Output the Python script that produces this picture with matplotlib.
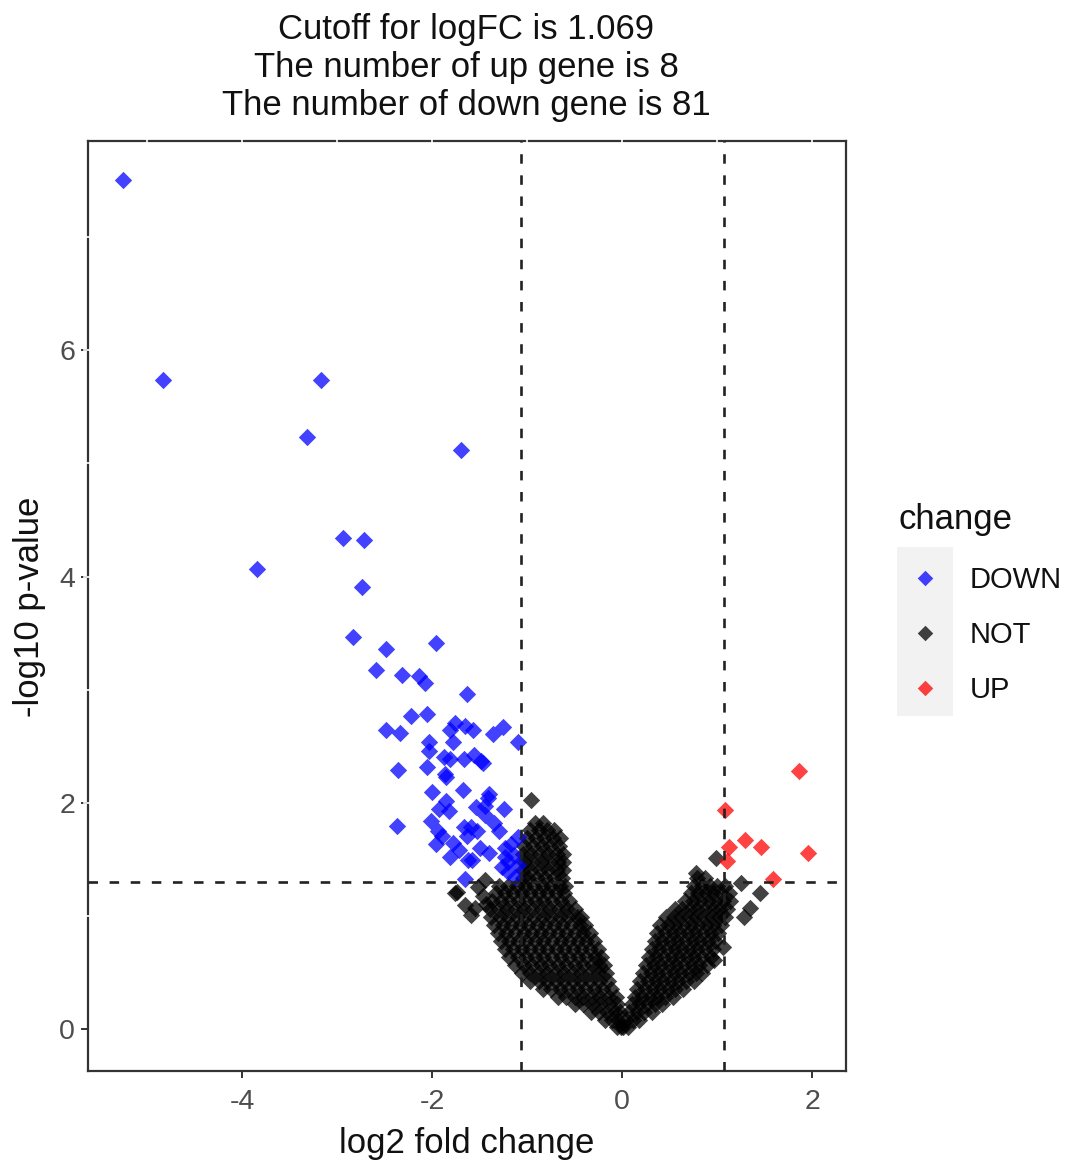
import matplotlib
matplotlib.use("Agg")
import matplotlib.pyplot as plt
from matplotlib.patches import Rectangle
import numpy as np

plt.rcParams['font.family'] = ['Liberation Sans', 'DejaVu Sans']

# ---------------- data ----------------
title_lines = ["Cutoff for logFC is 1.069",
               "The number of up gene is 8",
               "The number of down gene is 81"]
logfc_cutoff = 1.069
p_cutoff_y = 1.301  # -log10(0.05)

categories = ["DOWN", "NOT", "UP"]
colors = {"DOWN": "#0000FF", "NOT": "#000000", "UP": "#FF0000"}

x_ticks = [-4, -2, 0, 2]
y_ticks = [0, 2, 4, 6]

down_x = [-5.26, -4.84, -3.17, -3.32, -1.70, -2.94, -2.72, -3.85, -2.74, -2.84,
          -2.49, -1.96, -2.59, -2.32, -2.14, -2.08, -1.64, -2.22, -2.06, -2.49,
          -2.34, -1.76, -1.81, -1.66, -1.57, -1.36, -1.26, -1.10, -2.03, -1.78,
          -2.04, -1.88, -1.81, -1.67, -1.49, -1.47, -2.36, -2.06, -1.87, -1.86,
          -1.68, -1.40, -1.41, -1.86, -1.93, -1.82, -1.54, -1.45, -1.45, -1.25,
          -2.37, -2.01, -1.94, -1.90, -1.96, -1.67, -1.59, -1.64, -1.53, -1.35,
          -1.78, -1.81, -1.62, -1.58, -1.40, -1.24, -1.17, -1.10, -1.24, -1.27,
          -1.20, -1.10, -1.66, -1.14, -1.13, -1.50, -1.72, -1.30, -2.00, -1.20,
          -1.56]
down_y = [7.50, 5.74, 5.74, 5.23, 5.12, 4.34, 4.32, 4.07, 3.91, 3.47,
          3.36, 3.41, 3.17, 3.13, 3.12, 3.06, 2.96, 2.77, 2.79, 2.64,
          2.62, 2.71, 2.64, 2.68, 2.64, 2.61, 2.67, 2.54, 2.54, 2.54,
          2.46, 2.41, 2.39, 2.39, 2.37, 2.35, 2.29, 2.32, 2.26, 2.23,
          2.11, 2.08, 2.04, 2.02, 1.95, 1.93, 1.96, 1.97, 1.89, 1.95,
          1.80, 1.84, 1.75, 1.71, 1.64, 1.79, 1.79, 1.71, 1.75, 1.82,
          1.65, 1.52, 1.50, 1.50, 1.56, 1.60, 1.64, 1.70, 1.52, 1.43,
          1.39, 1.45, 1.33, 1.54, 1.35, 1.60, 1.58, 1.75, 2.10, 1.48,
          2.42]

up_x = [1.86, 1.08, 1.29, 1.12, 1.46, 1.96, 1.10, 1.59]
up_y = [2.28, 1.94, 1.67, 1.61, 1.61, 1.56, 1.49, 1.33]

# NOT genes: rows of the dense V-shaped cloud (row height, x positions)
not_row_y = [0.02, 0.08, 0.15, 0.22, 0.29, 0.36, 0.43, 0.50, 0.57, 0.64,
             0.71, 0.78, 0.85, 0.92, 0.99, 1.06, 1.13, 1.20, 1.27, 1.34,
             1.41, 1.48, 1.55, 1.62, 1.69, 1.76, 1.82]
not_row_left_x = [
    [-0.06, -0.01],
    [-0.18, -0.11, -0.04],
    [-0.33, -0.25, -0.16, -0.08, -0.02],
    [-0.50, -0.41, -0.32, -0.23, -0.14, -0.06],
    [-0.68, -0.59, -0.50, -0.41, -0.32, -0.23, -0.14, -0.07],
    [-0.84, -0.75, -0.66, -0.57, -0.48, -0.39, -0.30, -0.21, -0.12],
    [-0.97, -0.88, -0.79, -0.70, -0.61, -0.52, -0.43, -0.34, -0.25, -0.15],
    [-1.06, -0.97, -0.88, -0.79, -0.70, -0.61, -0.52, -0.43, -0.34, -0.25, -0.17],
    [-1.13, -1.04, -0.95, -0.86, -0.77, -0.68, -0.59, -0.50, -0.41, -0.32, -0.24, -0.19],
    [-1.19, -1.10, -1.01, -0.92, -0.83, -0.74, -0.65, -0.56, -0.47, -0.38, -0.29, -0.22],
    [-1.24, -1.15, -1.06, -0.97, -0.88, -0.79, -0.70, -0.61, -0.52, -0.43, -0.34, -0.26],
    [-1.28, -1.19, -1.10, -1.01, -0.92, -0.83, -0.74, -0.65, -0.56, -0.47, -0.38, -0.30],
    [-1.31, -1.22, -1.13, -1.04, -0.95, -0.86, -0.77, -0.68, -0.59, -0.50, -0.41, -0.34],
    [-1.35, -1.26, -1.17, -1.08, -0.99, -0.90, -0.81, -0.72, -0.63, -0.54, -0.45, -0.39],
    [-1.38, -1.29, -1.20, -1.11, -1.02, -0.93, -0.84, -0.75, -0.66, -0.57, -0.48, -0.43],
    [-1.39, -1.30, -1.21, -1.12, -1.03, -0.94, -0.85, -0.76, -0.67, -0.58, -0.50],
    [-1.37, -1.28, -1.19, -1.10, -1.01, -0.92, -0.83, -0.74, -0.65, -0.56],
    [-1.33, -1.24, -1.15, -1.06, -0.97, -0.88, -0.79, -0.70, -0.61],
    [-1.30, -1.20, -1.11, -1.02, -0.93, -0.84, -0.75, -0.66, -0.60],
    [-1.05, -0.99, -0.90, -0.81, -0.72, -0.63],
    [-1.05, -0.96, -0.87, -0.78, -0.69, -0.62],
    [-1.04, -0.95, -0.86, -0.77, -0.68, -0.62],
    [-1.05, -0.96, -0.87, -0.78, -0.69, -0.62],
    [-1.03, -0.94, -0.85, -0.76, -0.67],
    [-1.00, -0.91, -0.82, -0.73, -0.66],
    [-0.97, -0.88, -0.79, -0.72],
    [-0.92, -0.84],
]
not_row_right_x = [
    [0.01, 0.06],
    [0.04, 0.11, 0.18],
    [0.07, 0.15, 0.23, 0.31],
    [0.10, 0.18, 0.26, 0.34, 0.42],
    [0.13, 0.21, 0.29, 0.37, 0.45, 0.53],
    [0.16, 0.24, 0.32, 0.40, 0.48, 0.56, 0.64],
    [0.19, 0.27, 0.35, 0.43, 0.51, 0.59, 0.67, 0.75],
    [0.22, 0.30, 0.38, 0.46, 0.54, 0.62, 0.70, 0.78, 0.84],
    [0.25, 0.33, 0.41, 0.49, 0.57, 0.65, 0.73, 0.81, 0.89],
    [0.28, 0.36, 0.44, 0.52, 0.60, 0.68, 0.76, 0.84, 0.93],
    [0.31, 0.39, 0.47, 0.55, 0.63, 0.71, 0.79, 0.87, 0.95],
    [0.34, 0.42, 0.50, 0.58, 0.66, 0.74, 0.82, 0.90, 0.98],
    [0.37, 0.45, 0.53, 0.61, 0.69, 0.77, 0.85, 0.93, 1.01],
    [0.40, 0.48, 0.56, 0.64, 0.72, 0.80, 0.88, 0.96, 1.04],
    [0.46, 0.54, 0.62, 0.70, 0.78, 0.86, 0.94, 1.02, 1.08],
    [0.55, 0.63, 0.71, 0.79, 0.87, 0.95, 1.03, 1.10],
    [0.66, 0.74, 0.82, 0.90, 0.98, 1.06, 1.13],
    [0.72, 0.80, 0.88, 0.96, 1.04, 1.12],
    [0.76, 0.84, 0.92, 1.00, 1.08],
    [0.79, 0.87],
    [], [], [], [], [], [], [],
]
# scattered NOT genes outside the dense cloud
not_extra_x = [-1.76, -1.66, -1.59, -1.55, -1.43, -1.52, -1.45, -0.96, -1.47, -1.74,
               0.78, 0.99, 1.25, 1.45, 1.34, 1.28, 1.06, 0.97]
not_extra_y = [1.20, 1.10, 1.01, 1.07, 1.11, 1.26, 1.32, 2.03, 1.18, 1.21,
               1.38, 1.51, 1.29, 1.20, 1.07, 0.99, 0.73, 0.61]

not_x, not_y = [], []
for yv, lx, rx in zip(not_row_y, not_row_left_x, not_row_right_x):
    for xv in lx + rx:
        not_x.append(xv)
        not_y.append(yv)
not_x += not_extra_x
not_y += not_extra_y

series = {"DOWN": (down_x, down_y), "NOT": (not_x, not_y), "UP": (up_x, up_y)}

# ---------------- figure ----------------
W, H = 1066, 1165
fig = plt.figure(figsize=(W / 100, H / 100), dpi=100)
ax_l, ax_r, ax_t, ax_b = 87.5, 846, 140.7, 1071
ax = fig.add_axes([ax_l / W, 1 - ax_b / H, (ax_r - ax_l) / W, (ax_b - ax_t) / H])

alpha = 0.74
msize = 78
for cat in ["NOT", "DOWN", "UP"]:
    xs, ys = series[cat]
    ax.scatter(xs, ys, s=msize, marker='D', color=colors[cat], alpha=alpha,
               linewidths=0, zorder=3)

dash = (0, (3.6, 4.4))
ax.axvline(-logfc_cutoff, color='#222222', lw=1.9, ls=dash, zorder=4)
ax.axvline(logfc_cutoff, color='#222222', lw=1.9, ls=dash, zorder=4)
ax.axhline(p_cutoff_y, color='#222222', lw=1.9, ls=dash, zorder=4)

ax.set_xlim(-5.63, 2.355)
ax.set_ylim(-0.368, 7.85)
ax.set_xticks(x_ticks)
ax.set_xticklabels([str(v) for v in x_ticks])
ax.set_yticks(y_ticks)
ax.set_yticklabels([str(v) for v in y_ticks])
for sp in ax.spines.values():
    sp.set_color('#333333')
    sp.set_linewidth(1.6)
ax.tick_params(axis='both', colors='#333333', width=1.4, length=5,
               labelsize=20.5, labelcolor='#4d4d4d')
ax.tick_params(axis='x', pad=8)
ax.tick_params(axis='y', pad=4)

# white grid-line breaks in top and left border (as in the reference)
for xv in [-5, -4, -3, -2, -1, 0, 1, 2]:
    ax.plot([xv, xv], [0.994, 1.006], transform=ax.get_xaxis_transform(),
            color='white', lw=1.2, clip_on=False, zorder=6)
for yv in [1, 2, 3, 4, 5, 6, 7]:
    ax.plot([-0.005, 0.005], [yv, yv], transform=ax.get_yaxis_transform(),
            color='white', lw=1.2, clip_on=False, zorder=6)

# overlay in pixel coordinates for titles, labels and legend
ov = fig.add_axes([0, 0, 1, 1], zorder=10)
ov.set_xlim(0, W)
ov.set_ylim(H, 0)
ov.axis('off')
ov.patch.set_alpha(0)

for i, line in enumerate(title_lines):
    ov.text(466.5, 30 + i * 37.5, line, ha='center', va='center', fontsize=25,
            color='#111111')
ov.text(466.5, 1143, "log2 fold change", ha='center', va='center', fontsize=25,
        color='#111111')
ov.text(30, 607, "-log10 p-value", ha='center', va='center', fontsize=25,
        rotation=90, color='#111111')

# legend
ov.text(898, 520, "change", ha='left', va='center', fontsize=25, color='#111111')
ov.add_patch(Rectangle((897, 547), 56, 169, facecolor='#f2f2f2', edgecolor='none'))
for cat, yk in zip(categories, [578, 633, 688]):
    ov.scatter([925], [yk], s=msize * 0.8, marker='D', color=colors[cat], alpha=alpha,
               linewidths=0)
    ov.text(970, yk + 2, cat, ha='left', va='center', fontsize=21, color='#111111')

fig.savefig("out.png", dpi=100)
